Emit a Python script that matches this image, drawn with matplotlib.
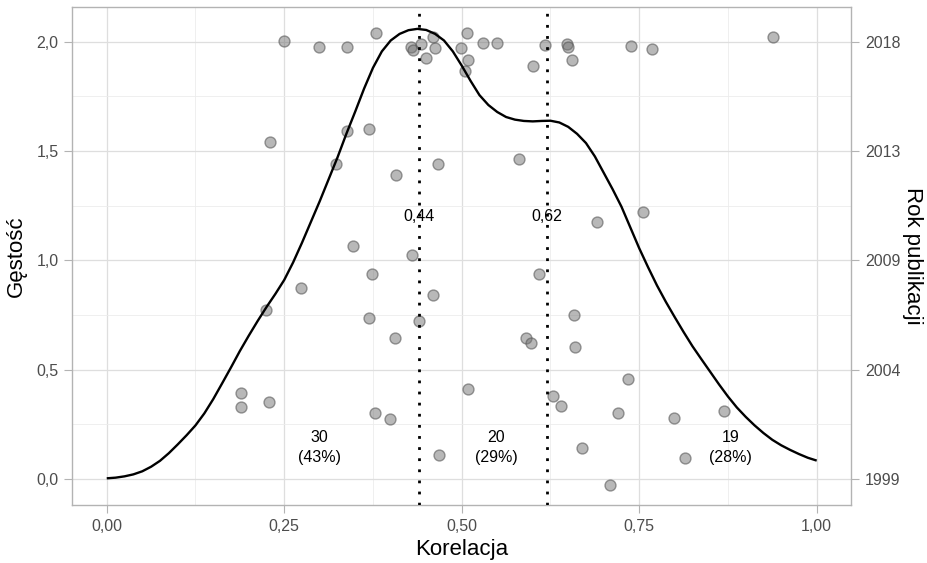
import matplotlib
matplotlib.use("Agg")
import matplotlib.pyplot as plt
from matplotlib.ticker import FixedLocator, FixedFormatter

plt.rcParams['font.family'] = ['Liberation Sans', 'DejaVu Sans']

# density curve
dens_x = [0, 0.0125, 0.025, 0.0375, 0.05, 0.0625, 0.075, 0.0875, 0.1, 0.1125, 0.125,
          0.1375, 0.15, 0.1625, 0.175, 0.1875, 0.2, 0.2125, 0.225, 0.2375, 0.25, 0.2625,
          0.275, 0.2875, 0.3, 0.3125, 0.325, 0.3375, 0.35, 0.3625, 0.375, 0.3875, 0.4,
          0.4125, 0.425, 0.4375, 0.45, 0.4625, 0.475, 0.4875, 0.5, 0.5125, 0.525, 0.5375,
          0.55, 0.5625, 0.575, 0.5875, 0.6, 0.6125, 0.625, 0.6375, 0.65, 0.6625, 0.675,
          0.6875, 0.7, 0.7125, 0.725, 0.7375, 0.75, 0.7625, 0.775, 0.7875, 0.8, 0.8125,
          0.825, 0.8375, 0.85, 0.8625, 0.875, 0.8875, 0.9, 0.9125, 0.925, 0.9375, 0.95,
          0.9625, 0.975, 0.9875, 1.0]
dens_y = [0.003, 0.006, 0.012, 0.021, 0.035, 0.056, 0.083, 0.118, 0.158, 0.200, 0.245,
          0.300, 0.365, 0.437, 0.510, 0.585, 0.655, 0.722, 0.786, 0.846, 0.910, 0.990,
          1.080, 1.175, 1.270, 1.370, 1.470, 1.578, 1.680, 1.785, 1.880, 1.955, 2.005,
          2.035, 2.052, 2.058, 2.053, 2.035, 2.005, 1.955, 1.890, 1.820, 1.755, 1.710,
          1.678, 1.655, 1.643, 1.637, 1.635, 1.637, 1.638, 1.630, 1.610, 1.578, 1.536,
          1.475, 1.400, 1.325, 1.245, 1.150, 1.055, 0.968, 0.885, 0.810, 0.740, 0.672,
          0.607, 0.548, 0.490, 0.432, 0.377, 0.327, 0.284, 0.245, 0.210, 0.179, 0.154,
          0.133, 0.114, 0.097, 0.084]

# points: correlation vs. (jittered) publication year on the density scale
pt_x = [0.250, 0.299, 0.339, 0.379, 0.428, 0.432, 0.443, 0.460, 0.462, 0.450, 0.499, 0.507,
        0.509, 0.505, 0.530, 0.549, 0.600, 0.617, 0.648, 0.649, 0.656, 0.739, 0.768, 0.938,
        0.581, 0.690, 0.755, 0.230, 0.339, 0.370, 0.323, 0.466, 0.408, 0.347, 0.430, 0.373,
        0.273, 0.460, 0.224, 0.369, 0.440, 0.406, 0.189, 0.189, 0.228, 0.378, 0.399, 0.468,
        0.509, 0.609, 0.658, 0.590, 0.598, 0.659, 0.734, 0.629, 0.640, 0.720, 0.799, 0.869,
        0.669, 0.814, 0.709]
pt_y = [2.002, 1.977, 1.977, 2.041, 1.977, 1.960, 1.990, 2.020, 1.970, 1.927, 1.970, 2.037,
        1.917, 1.864, 1.992, 1.992, 1.887, 1.982, 1.988, 1.976, 1.916, 1.979, 1.968, 2.020,
        1.465, 1.173, 1.222, 1.543, 1.593, 1.602, 1.439, 1.442, 1.388, 1.067, 1.022, 0.936,
        0.875, 0.841, 0.771, 0.734, 0.723, 0.645, 0.391, 0.329, 0.350, 0.300, 0.274, 0.109,
        0.413, 0.939, 0.751, 0.645, 0.622, 0.602, 0.457, 0.378, 0.335, 0.303, 0.278, 0.310,
        0.141, 0.096, -0.026]

quantiles = [0.44, 0.62]
quantile_labels = ["0,44", "0,62"]
group_x = [0.30, 0.549, 0.879]
group_labels = ["30\n(43%)", "20\n(29%)", "19\n(28%)"]

x_ticks = [0, 0.25, 0.5, 0.75, 1.0]
x_ticklabels = ["0,00", "0,25", "0,50", "0,75", "1,00"]
y_ticks = [0, 0.5, 1.0, 1.5, 2.0]
y_ticklabels = ["0,0", "0,5", "1,0", "1,5", "2,0"]
year_ticklabels = ["1999", "2004", "2009", "2013", "2018"]

fig = plt.figure(figsize=(9.27, 5.63), dpi=100)
ax = fig.add_axes([72.3/927, 1-505/563, (851-72.3)/927, (505-7)/563])

ax.set_xlim(-0.0485, 1.0483)
ax.set_ylim(-0.119, 2.158)

ax.xaxis.set_major_locator(FixedLocator(x_ticks))
ax.xaxis.set_major_formatter(FixedFormatter(x_ticklabels))
ax.xaxis.set_minor_locator(FixedLocator([0.125, 0.375, 0.625, 0.875]))
ax.yaxis.set_major_locator(FixedLocator(y_ticks))
ax.yaxis.set_major_formatter(FixedFormatter(y_ticklabels))
ax.yaxis.set_minor_locator(FixedLocator([0.25, 0.75, 1.25, 1.75]))

ax.grid(which='major', color='#dedede', linewidth=0.9)
ax.grid(which='minor', color='#ececec', linewidth=0.6)
ax.set_axisbelow(True)

for s in ax.spines.values():
    s.set_color('#b3b3b3')
    s.set_linewidth(1.0)

ax.tick_params(which='major', color='#b3b3b3', length=5.5, width=0.8,
               labelcolor='#4d4d4d', labelsize=11.5, pad=4.5)
ax.tick_params(which='minor', length=0)

ax.scatter(pt_x, pt_y, s=62, facecolor=(0.45, 0.45, 0.45, 0.5),
           edgecolor=(0.35, 0.35, 0.35, 0.6), linewidth=1.0, zorder=3)

ax.plot(dens_x, dens_y, color='black', linewidth=1.7, zorder=4,
        solid_joinstyle='round', solid_capstyle='butt')

for q, lab in zip(quantiles, quantile_labels):
    ax.axvline(q, color='black', linestyle=(0, (1, 3)), linewidth=2.0, zorder=4)
    ax.text(q, 1.20, lab, ha='center', va='center', fontsize=11.5, color='black', zorder=5)

for gx, lab in zip(group_x, group_labels):
    ax.text(gx, 0.144, lab, ha='center', va='center', fontsize=11.5, color='black',
            linespacing=1.4, zorder=5)

ax.set_xlabel("Korelacja", fontsize=16, labelpad=4)
ax.set_ylabel("Gęstość", fontsize=16, labelpad=7)

ax2 = ax.twinx()
ax2.set_ylim(ax.get_ylim())
ax2.yaxis.set_major_locator(FixedLocator(y_ticks))
ax2.yaxis.set_major_formatter(FixedFormatter(year_ticklabels))
ax2.tick_params(which='major', color='#b3b3b3', length=5.5, width=0.8,
                labelcolor='#4d4d4d', labelsize=11.5, pad=4.5)
for s in ax2.spines.values():
    s.set_visible(False)
ax2.set_ylabel("Rok publikacji", fontsize=16, rotation=-90, labelpad=16)

fig.savefig("out.png", dpi=100)
